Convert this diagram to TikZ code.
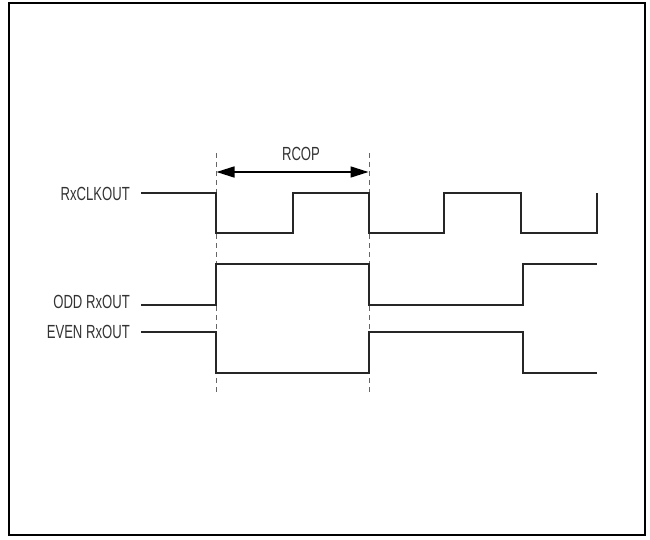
\documentclass[tikz,border=0pt]{standalone}
\usepackage{fontspec}
\setmainfont{Liberation Sans}[FakeStretch=0.69]
\usetikzlibrary{arrows.meta}
\begin{document}
\begin{tikzpicture}[x=1pt,y=-1pt,
  wave/.style={line width=1.6pt, draw=black!85, line join=miter},
  guide/.style={line width=1pt, draw=black!60, dash pattern=on 5pt off 4pt},
  lbl/.style={inner sep=0pt, font=\fontsize{19}{21}\selectfont, text=black!80},
  frame/.style={line width=2pt, draw=black}]
\useasboundingbox (0,0) rectangle (650,540);
\draw[frame] (9,3) rectangle (645,535);
% guides
\coordinate (g1t) at (216,153); \coordinate (g1b) at (216,395);
\coordinate (g2t) at (369,153); \coordinate (g2b) at (369,395);
\draw[guide] (g1t) -- (g1b);
\draw[guide] (g2t) -- (g2b);
% RCOP
\coordinate (a1) at (216.5,172); \coordinate (a2) at (368.5,172);
\draw[line width=1.6pt, draw=black, {Triangle[length=18pt,width=11pt]}-{Triangle[length=18pt,width=11pt]}] (a1) -- (a2);
\node[lbl] (rcop) at (301,154) {RCOP};
% labels
\node[lbl, anchor=east] (clk) at (130,193.5) {RxCLKOUT};
\node[lbl, anchor=east] (odd) at (130,301.5) {ODD RxOUT};
\node[lbl, anchor=east] (even) at (130,332) {EVEN RxOUT};
% waves
\draw[wave] (141,193) -- (216,193) -- (216,233) -- (293,233) -- (293,193) -- (369,193) -- (369,233) -- (444,233) -- (444,193) -- (521,193) -- (521,233) -- (597,233) -- (597,193);
\draw[wave] (141,305) -- (216,305) -- (216,264) -- (369,264) -- (369,305) -- (523,305) -- (523,264) -- (597,264);
\draw[wave] (141,332) -- (216,332) -- (216,373) -- (369,373) -- (369,332) -- (523,332) -- (523,373) -- (597,373);
\end{tikzpicture}
\end{document}
